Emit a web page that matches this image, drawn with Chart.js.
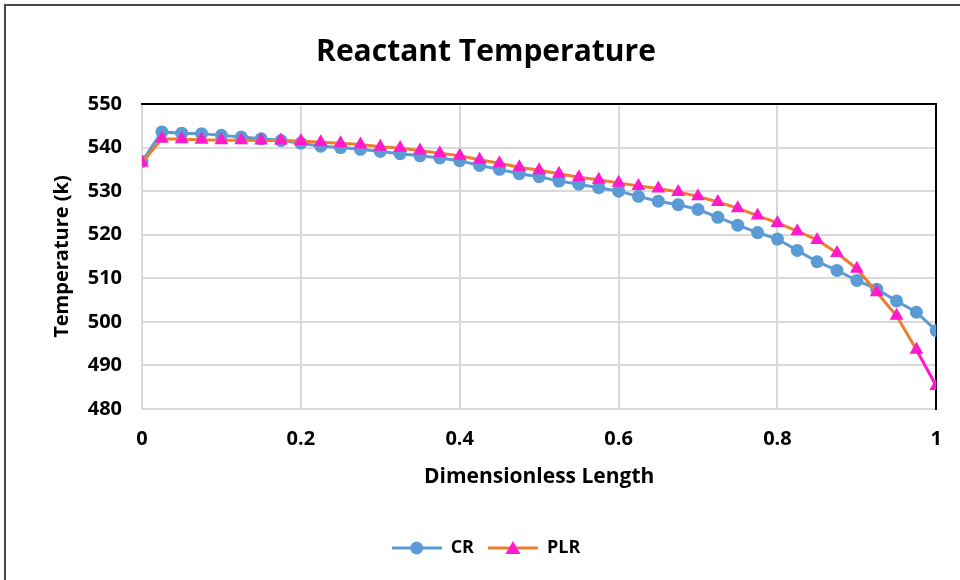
<!DOCTYPE html>
<html>
<head>
<meta charset="utf-8">
<script src="https://cdn.jsdelivr.net/npm/chart.js@4.4.1/dist/chart.umd.min.js"></script>
<style>
  html, body { margin: 0; padding: 0; background: #fff; }
  #wrap { position: relative; width: 960px; height: 580px; overflow: hidden; }
  #frame { position: absolute; left: 4px; top: 4px; width: 1000px; height: 620px; border: 2px solid #4a4a4a; box-sizing: border-box; }
  #myChart { position: absolute; left: 0; top: 0; }
</style>
</head>
<body>
<div id="wrap">
  <div id="frame"></div>
  <canvas id="myChart" width="960" height="580"></canvas>
</div>
<script>
// dimensionless length, every 0.025
const lengths = [0, 0.025, 0.05, 0.075, 0.1, 0.125, 0.15, 0.175, 0.2, 0.225, 0.25, 0.275, 0.3, 0.325, 0.35, 0.375, 0.4,
  0.425, 0.45, 0.475, 0.5, 0.525, 0.55, 0.575, 0.6, 0.625, 0.65, 0.675, 0.7, 0.725, 0.75, 0.775, 0.8, 0.825, 0.85,
  0.875, 0.9, 0.925, 0.95, 0.975, 1];

const crTemp = [536.8, 543.6, 543.3, 543.2, 542.8, 542.4, 542.0, 541.6, 541.0, 540.3, 540.0, 539.6, 539.1, 538.6, 538.1,
  537.6, 537.0, 535.9, 535.0, 534.0, 533.3, 532.3, 531.6, 530.8, 530.0, 528.8, 527.7, 526.9, 525.8, 524.0, 522.2,
  520.5, 519.0, 516.4, 513.8, 511.8, 509.5, 507.5, 504.8, 502.2, 498.0];

const plrTemp = [536.5, 542.0, 541.9, 541.8, 541.7, 541.7, 541.6, 541.6, 541.5, 541.2, 541.0, 540.7, 540.2, 539.9, 539.3,
  538.7, 538.1, 537.2, 536.4, 535.5, 534.8, 534.0, 533.2, 532.6, 531.9, 531.2, 530.6, 529.8, 528.8, 527.5, 526.1,
  524.4, 522.7, 520.8, 518.8, 515.8, 512.2, 506.8, 501.4, 493.6, 485.3];

const xTicks = [0, 0.2, 0.4, 0.6, 0.8, 1];

const blue = '#5B9BD5';
const orange = '#ED7D31';
const pink = '#FF1ACB';
const gridGrey = '#D9D9D9';
const fontName = '"Open Sans", sans-serif';

function toPoints(xs, ys) {
  return xs.map((x, i) => ({ x: x, y: ys[i] }));
}

// little legend pictures: line with marker in middle
function legendIcon(lineColor, markerColor, shape) {
  let c = document.createElement('canvas');
  c.width = 50; c.height = 18;
  let g = c.getContext('2d');
  g.strokeStyle = lineColor;
  g.lineWidth = 3;
  g.beginPath(); g.moveTo(0, 9); g.lineTo(50, 9); g.stroke();
  g.fillStyle = markerColor;
  g.beginPath();
  if (shape === 'circle') {
    g.arc(25, 9, 6.5, 0, Math.PI * 2);
  } else {
    g.moveTo(25, 2); g.lineTo(32.5, 15); g.lineTo(17.5, 15); g.closePath();
  }
  g.fill();
  return c;
}

const crIcon = legendIcon(blue, blue, 'circle');
const plrIcon = legendIcon(orange, pink, 'triangle');

var ctx = document.getElementById('myChart');
var myChart = new Chart(ctx, {
  type: 'line',
  data: {
    datasets: [{
      label: 'CR',
      data: toPoints(lengths, crTemp),
      borderColor: blue,
      backgroundColor: blue,
      borderWidth: 3,
      pointStyle: 'circle',
      pointRadius: 6.5,
      pointBorderWidth: 0,
      pointBackgroundColor: blue,
      order: 1
    }, {
      label: 'PLR',
      data: toPoints(lengths, plrTemp),
      borderColor: orange,
      backgroundColor: pink,
      borderWidth: 3,
      pointStyle: 'triangle',
      pointRadius: 8,
      pointBorderWidth: 0,
      pointBackgroundColor: pink,
      segment: {
        // the last piece looks magenta in the original
        borderColor: c => (c.p1DataIndex === lengths.length - 1 ? pink : undefined)
      },
      order: 0
    }]
  },
  options: {
    responsive: false,
    animation: false,
    layout: {
      padding: { left: 28, right: 16, top: 20, bottom: 13 }
    },
    plugins: {
      title: {
        display: true,
        text: 'Reactant Temperature',
        color: '#000',
        font: { family: fontName, size: 30, weight: 'bold' },
        padding: { top: 14, bottom: 34 }
      },
      legend: {
        position: 'bottom',
        labels: {
          usePointStyle: true,
          pointStyleWidth: 50,
          padding: 14,
          color: '#000',
          font: { family: fontName, size: 18, weight: 'bold' },
          generateLabels: function() {
            return [
              { text: 'CR', pointStyle: crIcon, fillStyle: blue, strokeStyle: blue, lineWidth: 0, datasetIndex: 0 },
              { text: 'PLR', pointStyle: plrIcon, fillStyle: pink, strokeStyle: orange, lineWidth: 0, datasetIndex: 1 }
            ];
          }
        }
      },
      tooltip: { enabled: false }
    },
    scales: {
      x: {
        type: 'linear',
        min: 0,
        max: 1,
        afterBuildTicks: function(scale) { scale.ticks = xTicks.map(v => ({ value: v })); },
        ticks: {
          padding: 18,
          color: '#000',
          font: { family: fontName, size: 20, weight: 'bold' },
          callback: v => String(v)
        },
        grid: { color: gridGrey, lineWidth: 2, drawTicks: false },
        border: { color: gridGrey, width: 2 },
        title: {
          display: true,
          text: 'Dimensionless Length',
          color: '#000',
          font: { family: fontName, size: 21, weight: 'bold' },
          padding: { top: 10, bottom: 35 }
        },
        afterFit: function(scale) { scale.height = 116; }
      },
      y: {
        min: 480,
        max: 550,
        ticks: {
          stepSize: 10,
          padding: 20,
          color: '#000',
          font: { family: fontName, size: 20, weight: 'bold' }
        },
        grid: { color: gridGrey, lineWidth: 2, drawTicks: false },
        border: { color: gridGrey, width: 2 },
        title: {
          display: true,
          text: 'Temperature (k)',
          color: '#000',
          font: { family: fontName, size: 20, weight: 'bold' },
          padding: { top: 22, bottom: 0 }
        },
        afterFit: function(scale) { scale.width = 142 - 28; }
      },
      x2: {
        type: 'linear',
        position: 'top',
        min: 0,
        max: 1,
        ticks: { display: false },
        grid: { display: false, drawTicks: false },
        border: { color: '#000', width: 2 }
      },
      y2: {
        type: 'linear',
        position: 'right',
        min: 480,
        max: 550,
        ticks: { display: false },
        grid: { display: false, drawTicks: false },
        border: { color: '#000', width: 2 }
      }
    }
  }
});
</script>
</body>
</html>
